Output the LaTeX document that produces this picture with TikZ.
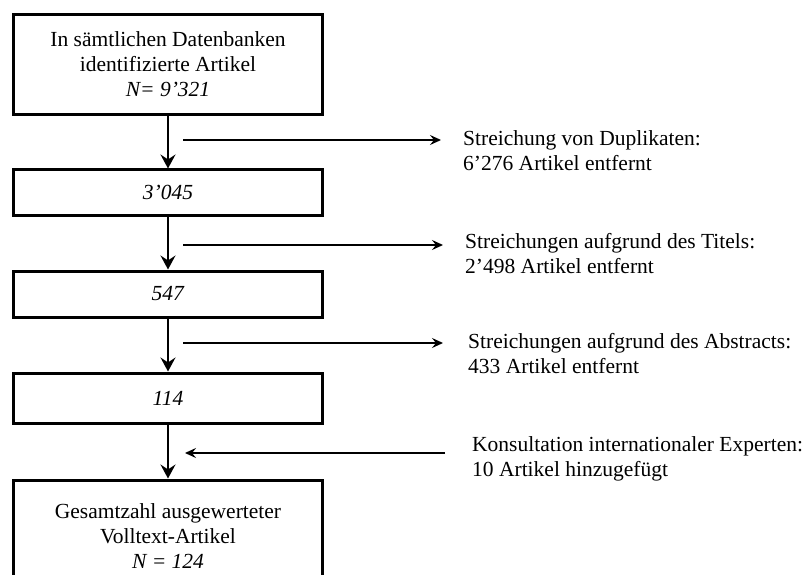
\documentclass[tikz,border=0pt]{standalone}
\usepackage{fontspec}
\setmainfont{Liberation Serif}
\usetikzlibrary{arrows.meta}
\begin{document}
\begin{tikzpicture}[x=1pt,y=-1pt,
  stagebox/.style={draw=black, line width=3pt, minimum width=309pt,
    inner sep=0pt, align=center, font=\fontsize{21.5}{25}\selectfont},
  sidenote/.style={anchor=west, inner sep=0pt, align=left,
    font=\fontsize{21.5}{25}\selectfont},
  flow/.style={line width=2.8pt, -{Stealth[length=14pt,width=15pt,inset=5pt]}},
  side/.style={line width=2.2pt, -{Stealth[length=11pt,width=10pt,inset=4pt]}}
]
\useasboundingbox (0,0) rectangle (806,575);
\clip (0,0) rectangle (806,575);

% stages of the selection
\node[stagebox, minimum height=100pt] (b1) at (168,64.5)
  {In sämtlichen Datenbanken\\identifizierte Artikel\\\textit{N= 9’321}};
\node[stagebox, minimum height=45pt] (b2) at (168,192.5) {\textit{3’045}};
\node[stagebox, minimum height=46pt] (b3) at (168,294) {\textit{547}};
\node[stagebox, minimum height=50pt] (b4) at (168,398) {\textit{114}};
\node[stagebox, minimum height=112pt] (b5) at (168,536)
  {Gesamtzahl ausgewerteter\\Volltext-Artikel\\\textit{N = 124}};

% main flow
\draw[flow] (b1) -- (b2);
\draw[flow] (b2) -- (b3);
\draw[flow] (b3) -- (b4);
\draw[flow] (b4) -- (b5);

% side notes
\node[sidenote] (n1) at (463,151) {Streichung von Duplikaten:\\6’276 Artikel entfernt};
\node[sidenote] (n2) at (465,254) {Streichungen aufgrund des Titels:\\2’498 Artikel entfernt};
\node[sidenote] (n3) at (468,354) {Streichungen aufgrund des Abstracts:\\433 Artikel entfernt};
\node[sidenote] (n4) at (472,459) {Konsultation internationaler Experten:\\10 Artikel hinzugefügt};

\coordinate (s1) at (183,140);  \coordinate (e1) at (441,140);
\coordinate (s2) at (183,245);  \coordinate (e2) at (443,245);
\coordinate (s3) at (183,343);  \coordinate (e3) at (443,343);
\coordinate (s4) at (445,453);  \coordinate (e4) at (185,453);

\draw[side] (s1) -- (e1);
\draw[side] (s2) -- (e2);
\draw[side] (s3) -- (e3);
\draw[side] (s4) -- (e4);
\end{tikzpicture}
\end{document}
